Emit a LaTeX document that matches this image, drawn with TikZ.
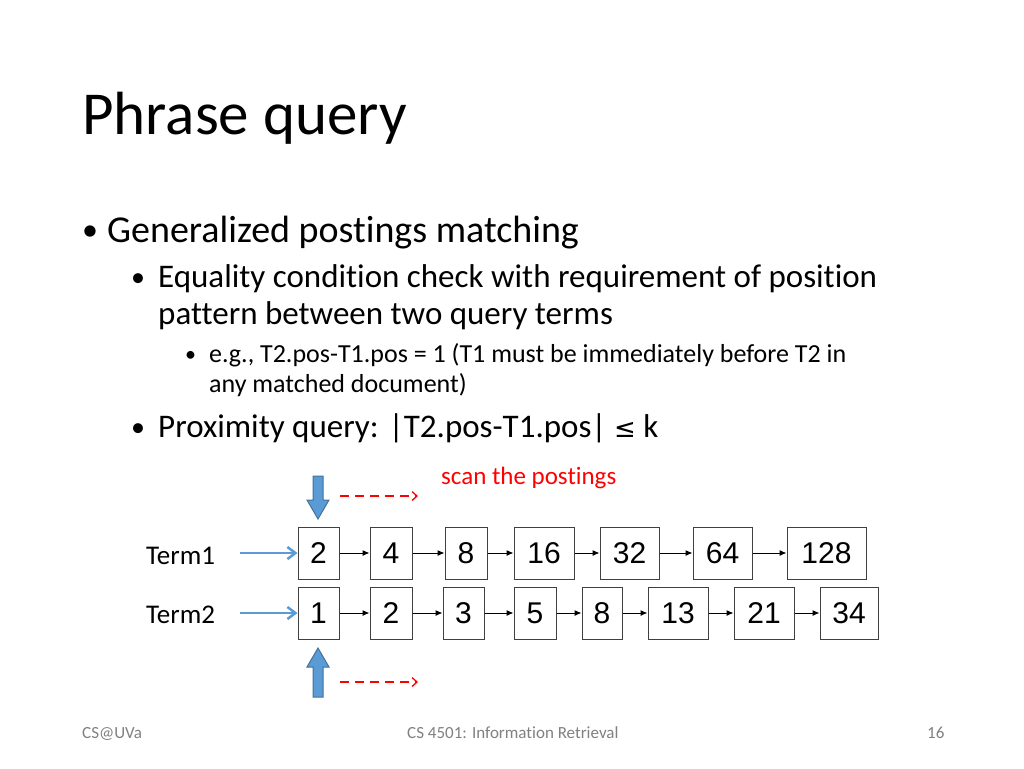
\documentclass[tikz,border=0pt]{standalone}
\usepackage{fontspec}
\setmainfont{Carlito}[Ligatures=NoCommon]
\newfontfamily\arialf{Liberation Sans}
\newfontfamily\djv{DejaVu Sans}
\usetikzlibrary{arrows.meta}
\definecolor{blu}{HTML}{5B9BD5}
\definecolor{bluD}{HTML}{41719C}
\tikzset{
 pbox/.style={draw=black!75,line width=1pt,minimum height=52pt,inner sep=0pt,font=\arialf\fontsize{30}{30}\selectfont},
 nx/.style={-{Latex[length=7pt,width=6pt]},line width=1pt},
 tin/.style={-{Straight Barb[length=8pt,width=12pt]},blu,line width=2.5pt},
 scan/.style={red,line width=1.3pt,dash pattern=on 9pt off 6pt,-{Straight Barb[length=5pt,width=9pt]}},
 bigar/.style={fill=blu,draw=bluD,line width=1pt},
 txt/.style={anchor=base west,inner sep=0pt},
 bul/.style={anchor=base west,inner sep=0pt}
}
\begin{document}
\begin{tikzpicture}[x=1pt,y=-1pt]
\useasboundingbox (0,0) rectangle (1024,768);
\node[txt,font=\fontsize{61}{61}\selectfont] (title) at (82,134) {Phrase query};
\node[bul,font=\fontsize{32}{32}\selectfont] (b1) at (82,240) {•};
\node[txt,font=\fontsize{38}{38}\selectfont] (l1) at (107,242) {Generalized postings matching};
\node[bul,font=\fontsize{28}{28}\selectfont] (b2) at (131,286) {•};
\node[txt,font=\fontsize{33}{33}\selectfont] (l2a) at (158,287) {Equality condition check with requirement of position};
\node[txt,font=\fontsize{33}{33}\selectfont] (l2b) at (158,324) {pattern between two query terms};
\node[bul,font=\fontsize{22}{22}\selectfont] (b3) at (185,361) {•};
\node[txt,font=\fontsize{26}{26}\selectfont] (l3a) at (209,362) {e.g., T2.pos-T1.pos = 1 (T1 must be immediately before T2 in};
\node[txt,font=\fontsize{26}{26}\selectfont] (l3b) at (209,392) {any matched document)};
\node[bul,font=\fontsize{28}{28}\selectfont] (b4) at (131,436) {•};
\node[txt,font=\fontsize{33}{33}\selectfont] (l2c) at (158,437) {Proximity query: |T2.pos-T1.pos| {\djv\fontsize{26}{26}\selectfont ≤} k};
\node[txt,red,font=\fontsize{25}{25}\selectfont] (scanl) at (441,484) {scan the postings};
\node[txt,font=\fontsize{27}{27}\selectfont] (t1) at (146,564) {Term1};
\node[txt,font=\fontsize{27}{27}\selectfont] (t2) at (146,623) {Term2};
\foreach \n/\a/\b/\v in {a1/298/339/2,a2/370/412/4,a3/445/487/8,a4/514/574/16,a5/600/659/32,a6/693/752/64,a7/787/866/128}
  \node[pbox,minimum width={\b-\a}] (\n) at ({(\a+\b)/2},553) {\v};
\foreach \n/\a/\b/\v in {b1/298/339/1,b2/370/412/2,b3/443/484/3,b4/514/556/5,b5/582/622/8,b6/648/708/13,b7/734/794/21,b8/820/878/34}
  \node[pbox,minimum width={\b-\a}] (\n) at ({(\a+\b)/2},613) {\v};
\foreach \p/\q in {a1/a2,a2/a3,a3/a4,a4/a5,a5/a6,a6/a7,b1/b2,b2/b3,b3/b4,b4/b5,b5/b6,b6/b7,b7/b8}
  \draw[nx] (\p) -- (\q);
\coordinate (s1) at (240,553);
\coordinate (s2) at (240,613);
\draw[tin] (s1) -- (a1);
\draw[tin] (s2) -- (b1);
\draw[bigar] (313,476) -- (323,476) -- (323,500) -- (329,500) -- (318,519) -- (307,500) -- (313,500) -- cycle;
\draw[bigar] (313,697) -- (323,697) -- (323,667) -- (329,667) -- (318,648) -- (307,667) -- (313,667) -- cycle;
\coordinate (r1a) at (340,496); \coordinate (r1b) at (418,496);
\coordinate (r2a) at (340,682); \coordinate (r2b) at (418,682);
\draw[scan] (r1a) -- (r1b);
\draw[scan] (r2a) -- (r2b);
\node[txt,gray,font=\fontsize{17}{17}\selectfont] (f1) at (82,738) {CS@UVa};
\node[txt,gray,font=\fontsize{17}{17}\selectfont] (f2) at (407,738) {CS 4501: Information Retrieval};
\node[txt,gray,font=\fontsize{17}{17}\selectfont] (f3) at (927,738) {16};
\end{tikzpicture}
\end{document}
